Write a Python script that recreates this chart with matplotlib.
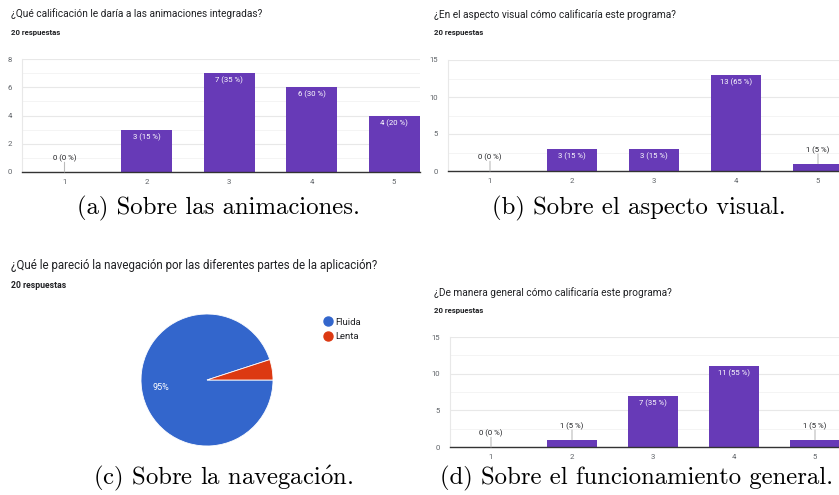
import matplotlib
matplotlib.use('Agg')
import matplotlib.pyplot as plt
from matplotlib.lines import Line2D

W, H = 839, 495

# survey data
cats = [1, 2, 3, 4, 5]
anim_counts = [0, 3, 7, 6, 4]
visual_counts = [0, 3, 3, 13, 1]
general_counts = [0, 1, 7, 11, 1]
nav_labels = ['Fluida', 'Lenta']
nav_counts = [19, 1]
total = 20

titles = ['¿Qué calificación le daría a las animaciones integradas?',
          '¿En el aspecto visual cómo calificaría este programa?',
          '¿Qué le pareció la navegación por las diferentes partes de la aplicación?',
          '¿De manera general cómo calificaría este programa?']
captions = ['(a) Sobre las animaciones.', '(b) Sobre el aspecto visual.',
            r'(c) Sobre la navegaci$\acute{\mathrm{o}}$n.', '(d) Sobre el funcionamiento general.']

PURPLE = '#673ab7'
TXT = '#202124'
GREY = '#5f6368'
plt.rcParams['font.family'] = ['Roboto', 'DejaVu Sans']
plt.rcParams['mathtext.fontset'] = 'cm'


def rect(left, top, right, bottom):
    return [left / W, 1 - bottom / H, (right - left) / W, (bottom - top) / H]


def fx(x):
    return x / W


def fy(y):
    return 1 - y / H


def bar_panel(fig, counts, ymax, ystep, box, c1, sp):
    left, top, right, bottom = box
    ax = fig.add_axes(rect(left, top, right, bottom))
    ax.bar(cats, counts, width=0.62, color=PURPLE, zorder=3)
    ax.set_xlim(1 - (c1 - left) / sp, 1 + (right - c1) / sp)
    ax.set_ylim(0, ymax)
    ax.set_yticks(range(0, ymax + 1, ystep))
    ax.set_yticks([v + ystep / 2 for v in range(0, ymax, ystep)], minor=True)
    ax.set_xticks(cats)
    ax.grid(axis='y', which='major', color='#e8e8e8', lw=0.8, zorder=0)
    ax.grid(axis='y', which='minor', color='#f3f3f3', lw=0.6, zorder=0)
    ax.tick_params(which='both', length=0, labelsize=5.6, colors=GREY, pad=5)
    ax.tick_params(axis='y', pad=7)
    for s in ['top', 'right']:
        ax.spines[s].set_visible(False)
    ax.spines['left'].set_color('#e8e8e8')
    ax.spines['bottom'].set_color('#333333')
    ax.spines['bottom'].set_linewidth(1.0)
    ax.spines['bottom'].set_zorder(4)
    for c, v in zip(cats, counts):
        lab = '%d (%d %%)' % (v, round(100 * v / total))
        if v / ymax > 0.12:
            ax.annotate(lab, (c, v), xytext=(0, -2.5), textcoords='offset points',
                        ha='center', va='top', fontsize=5.6, color='white', zorder=5)
        else:
            ax.annotate(lab, (c, v), xytext=(0, 7), textcoords='offset points',
                        ha='center', va='bottom', fontsize=5.6, color=TXT, zorder=5,
                        annotation_clip=False)
            ax.annotate('', (c, v), xytext=(0, 7), textcoords='offset points',
                        arrowprops=dict(arrowstyle='-', color='#bbbbbb', lw=0.8,
                                        shrinkA=0, shrinkB=0), zorder=5)
    return ax


fig = plt.figure(figsize=(W / 100, H / 100), dpi=100)

# headers
fig.text(fx(11), fy(14), titles[0], fontsize=7.3, color=TXT, va='center')
fig.text(fx(11), fy(32), '20 respuestas', fontsize=5.6, color=TXT, va='center', weight='bold')
fig.text(fx(434), fy(15), titles[1], fontsize=7.3, color=TXT, va='center')
fig.text(fx(434), fy(33), '20 respuestas', fontsize=5.6, color=TXT, va='center', weight='bold')
fig.text(fx(11), fy(265), titles[2], fontsize=8.3, color=TXT, va='center')
fig.text(fx(11), fy(286), '20 respuestas', fontsize=6.2, color=TXT, va='center', weight='bold')
fig.text(fx(434), fy(293), titles[3], fontsize=7.3, color=TXT, va='center')
fig.text(fx(434), fy(311), '20 respuestas', fontsize=5.6, color=TXT, va='center', weight='bold')

bar_panel(fig, anim_counts, 8, 2, (22, 59, 420, 172), 64.5, 82.4)
bar_panel(fig, visual_counts, 15, 5, (448, 60, 839, 171), 490, 82)
bar_panel(fig, general_counts, 15, 5, (450, 337, 839, 447), 491, 81)

# pie
axp = fig.add_axes(rect(141, 314, 273, 446))
axp.pie(nav_counts, colors=['#3366cc', '#dc3912'], startangle=18, counterclock=True,
        wedgeprops=dict(edgecolor='white', linewidth=0.6))
axp.set_xlim(-1, 1)
axp.set_ylim(-1, 1)
axp.set_aspect('equal')
fig.text(fx(161), fy(387), '%d%%' % round(100 * nav_counts[0] / total), fontsize=6.5,
         color='white', ha='center', va='center')
handles = [Line2D([], [], ls='none', marker='o', ms=6.5, color=c) for c in ['#3366cc', '#dc3912']]
fig.legend(handles, nav_labels, loc='upper left', bbox_to_anchor=(fx(317), fy(313)),
           frameon=False, fontsize=6.8, handletextpad=0.1, labelspacing=0.6,
           handlelength=1.3, borderpad=0, labelcolor=TXT)

# captions
for (x, y), txt in zip([(218, 208), (639, 208), (223, 478), (637, 478)], captions):
    fig.text(fx(x), fy(y), txt, family='cmr10', fontsize=17.8, ha='center', va='center',
             color='black')

fig.savefig('out.png', dpi=100)
